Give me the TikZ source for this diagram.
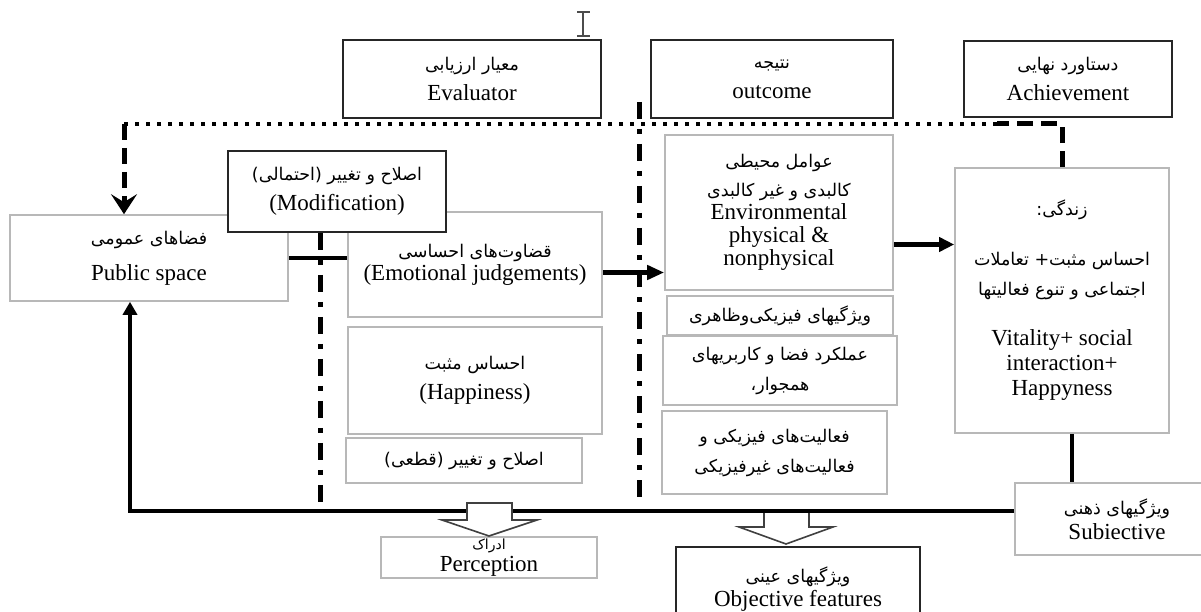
\documentclass[tikz,border=0pt]{standalone}
\usepackage{fontspec}
\setmainfont{Liberation Serif}
\newfontfamily\farsi[Script=Arabic]{DejaVu Sans}
\TeXXeTstate=1
\newcommand{\fa}[2][17.5]{{\farsi\fontsize{#1}{30}\selectfont\beginR #2\endR}}
\usetikzlibrary{arrows.meta}

\tikzset{
  gbox/.style={draw=black!28, line width=1.6pt, inner sep=0pt, align=center,
    font=\fontsize{23}{30}\selectfont},
  kbox/.style={gbox, draw=black!85},
  dimen/.style 2 args={minimum width=#1pt, minimum height=#2pt},
  dotline/.style={line width=4.5pt, dash pattern=on 4.5pt off 6.5pt},
  dashline/.style={line width=5pt, dash pattern=on 16pt off 8pt},
  dashdot/.style={line width=5pt, dash pattern=on 17pt off 10pt on 5pt off 10pt},
  heavy/.style={line width=4.5pt},
  hollow/.style={draw=black!75, line width=1.6pt, fill=white},
}

\begin{document}
\begin{tikzpicture}[x=1pt,y=-1pt]
  \useasboundingbox (0,0) rectangle (1201,612);
  % cursor mark
  \draw[line width=1.5pt, black!70] (583,12) -- (583,36) (577,12) -- (590,12) (577,36) -- (590,36);

  % header boxes
  \node[kbox, dimen={258}{78}] (eval) at (472,79) {\fa{معیار ارزیابی}\\Evaluator};
  \node[kbox, dimen={242}{78}] (outc) at (772,79) {\fa{نتیجه}\\outcome};
  \node[kbox, dimen={208}{76}] (achv) at (1068,79) {\fa{دستاورد نهایی}\\Achievement};

  % left and middle column
  \node[gbox, dimen={278}{86}] (ps) at (149,258) {\fa{فضاهای عمومی}\\[6pt]Public space};
  \node[gbox, dimen={254}{105}] (emo) at (475,264.5) {\fa{قضاوت^^^^200cهای احساسی}\\[-7pt](Emotional judgements)};
  \node[kbox, fill=white, dimen={218}{81}] (modp) at (337,191.5) {\fa{اصلاح و تغییر (احتمالی)}\\(Modification)};
  \node[gbox, dimen={254}{107}] (happ) at (475,380.5) {\fa{احساس مثبت}\\(Happiness)};
  \node[gbox, dimen={236}{45}] (modf) at (464,460.5) {\fa{اصلاح و تغییر (قطعی)}};

  % outcome column
  \node[gbox, dimen={228}{155}] (env) at (779,212.5)
    {\fa{عوامل محیطی}\\[-1pt]\fa{کالبدی و غیر کالبدی}\\[-7pt]Environmental\\[-7pt]physical \&\\[-7pt]nonphysical};
  \node[gbox, dimen={226}{39}] (phys) at (780,315.5) {\fa{ویژگیهای فیزیکی^^^^200cوظاهری}};
  \node[gbox, dimen={234}{69}] (func) at (780,370.5) {\fa{عملکرد فضا و کاربریهای}\\\fa{همجوار،}};
  \node[gbox, dimen={225}{83}] (actv) at (774.5,452.5) {\fa{فعالیت^^^^200cهای فیزیکی و}\\\fa{فعالیت^^^^200cهای غیرفیزیکی}};

  % achievement column
  \node[gbox, dimen={214}{265}] (vital) at (1062,300.5)
    {\fa{زندگی:}\\[20pt]\fa{احساس مثبت+ تعاملات}\\\fa{اجتماعی و تنوع فعالیتها}\\[20pt]Vitality+ social\\[-5pt]interaction+\\[-5pt]Happyness};
  \node[gbox, dimen={204}{72}] (subj) at (1117,519) {\fa{ویژگیهای ذهنی}\\[-5pt]Subiective};

  % bottom boxes
  \node[gbox, dimen={216}{41}] (perc) at (489,557.5) {\fa[14]{ادراک}\\[-8pt]Perception};
  \node[kbox, dimen={244}{85}] (objf) at (798,589.5) {\fa{ویژگیهای عینی}\\[-6pt]Objective features};

  % feedback loop on top
  \coordinate (fbR) at (997,124);
  \coordinate (fbL) at (124,124);
  \draw[dashline] (vital.north) -- (vital.north |- fbR) -- (fbR);
  \draw[dotline] (fbR) -- (fbL);
  \draw[dashline, -{Stealth[length=20pt, width=26pt, inset=8pt]}] (fbL) -- (fbL |- ps.north);

  % separators
  \coordinate (bl) at (130,511);
  \draw[dashdot] (modp.south -| 320,0) -- (320,511);
  \draw[dashdot] (639,102) -- (639,503);

  % forward links
  \draw[heavy] (ps.east) -- (ps.east -| emo.west);
  \draw[heavy, -{Triangle[length=17pt, width=14pt]}] ([yshift=-8pt]emo.east) -- ([yshift=-8pt]emo.east -| env.west);
  \draw[heavy, -{Triangle[length=15pt, width=14pt]}] ([yshift=-32pt]env.east) -- ([yshift=-32pt]env.east -| vital.west);
  \draw[heavy] ([xshift=10pt]vital.south) -- ([xshift=10pt]vital.south |- subj.north);

  % return line and hollow arrows
  \draw[hollow] (764,511) -- (764,527) -- (739,527) -- (786,544) -- (833,527) -- (809,527) -- (809,511);
  \draw[heavy, -{Triangle[length=13pt, width=14pt]}] ([yshift=8pt]subj.west) -- (bl) -- (bl |- ps.south);
  \draw[hollow] (467,503) -- (467,520) -- (442,520) -- (489,536) -- (537,520) -- (512,520) -- (512,503) -- cycle;
\end{tikzpicture}
\end{document}
